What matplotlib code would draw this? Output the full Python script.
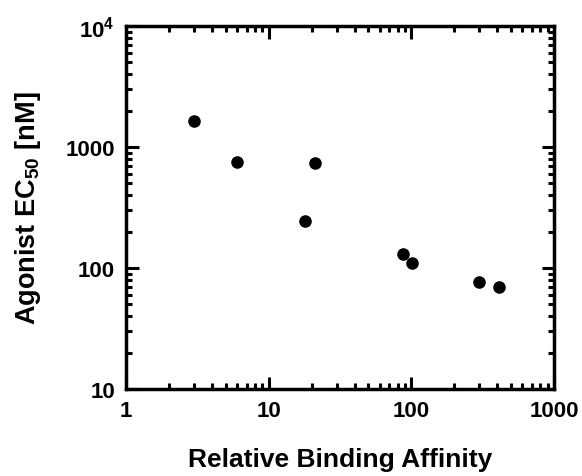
import matplotlib
matplotlib.use("Agg")
import matplotlib.pyplot as plt
from matplotlib.ticker import FixedLocator, FixedFormatter, LogLocator, NullFormatter

plt.rcParams["font.family"] = "Liberation Sans"
plt.rcParams["font.weight"] = "bold"
plt.rcParams["mathtext.fontset"] = "custom"
plt.rcParams["mathtext.rm"] = "Liberation Sans:bold"
plt.rcParams["mathtext.it"] = "Liberation Sans:bold"
plt.rcParams["mathtext.bf"] = "Liberation Sans:bold"
plt.rcParams["mathtext.default"] = "rm"

# data
binding_affinity = [3.0, 6.0, 21, 18, 87, 101, 298, 411]
ec50 = [1640, 750, 740, 244, 131, 110, 77, 70]

x_ticks = [1, 10, 100, 1000]
x_labels = ["1", "10", "100", "1000"]
y_ticks = [10, 100, 1000, 10000]
y_labels = ["10", "100", "1000", r"$10^{4}$"]

fig = plt.figure(figsize=(5.82, 4.77), dpi=100)
ax = fig.add_axes([0.2165, 0.1824, 0.7355, 0.761])

ax.scatter(binding_affinity, ec50, s=82, color="black", zorder=3, linewidths=0)

ax.set_xscale("log")
ax.set_yscale("log")
ax.set_xlim(1, 1000)
ax.set_ylim(10, 10000)

ax.xaxis.set_major_locator(FixedLocator(x_ticks))
ax.xaxis.set_major_formatter(FixedFormatter(x_labels))
ax.yaxis.set_major_locator(FixedLocator(y_ticks))
ax.yaxis.set_major_formatter(FixedFormatter(y_labels))
ax.xaxis.set_minor_locator(LogLocator(base=10, subs=range(2, 10)))
ax.yaxis.set_minor_locator(LogLocator(base=10, subs=range(2, 10)))
ax.xaxis.set_minor_formatter(NullFormatter())
ax.yaxis.set_minor_formatter(NullFormatter())

ax.tick_params(which="both", direction="in", top=True, right=True, labelsize=16)
ax.tick_params(which="major", length=9, width=2.2, pad=8)
ax.tick_params(which="minor", length=4, width=2.2)
for sp in ax.spines.values():
    sp.set_linewidth(2.5)

ax.set_xlabel("Relative Binding Affinity", fontsize=19, fontweight="bold", labelpad=19)
ax.set_ylabel("Agonist EC$_{50}$ [nM]", fontsize=19.5, fontweight="bold", labelpad=16)

fig.savefig("out.png", dpi=100)
